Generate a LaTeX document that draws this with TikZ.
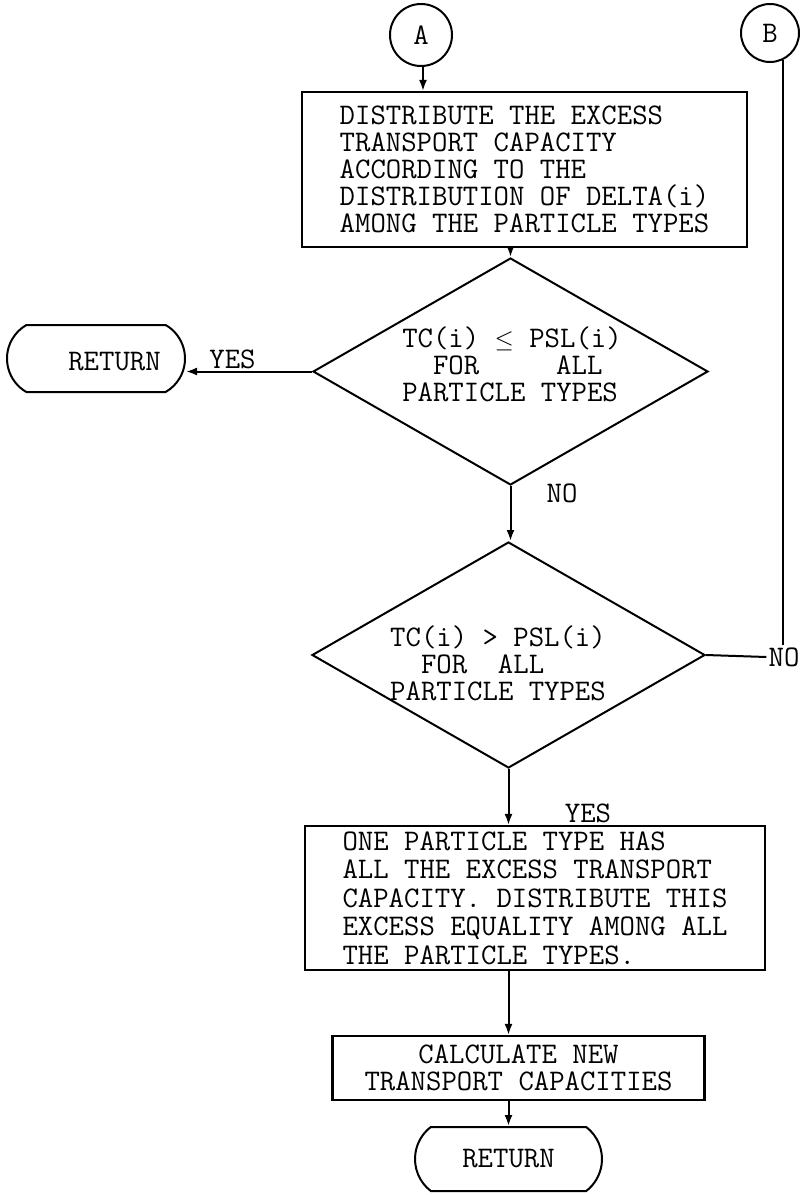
\documentclass[tikz,border=0pt]{standalone}
\usepackage{fontspec}
\usetikzlibrary{shapes.geometric,shapes.misc,arrows.meta}
\newcommand{\mfont}[1]{\ttfamily\fontsize{29.9bp}{#1}\selectfont}
\tikzset{
  txt/.style={font=\mfont{27bp}, inner sep=0pt},
  dtxt/.style={font=\mfont{27bp}, inner sep=0pt, align=left},
  procbox/.style={draw, line width=2.2bp, rectangle, font=\mfont{27bp}},
  decision/.style={draw, line width=2bp, diamond, inner sep=0pt},
  terminal/.style={draw, line width=2bp, rounded rectangle, inner sep=0pt},
  connector/.style={draw, line width=2bp, circle, inner sep=0pt, minimum size=#1, font=\mfont{27bp}},
  arr/.style={line width=2bp, -{Latex[length=11bp,width=8bp]}},
  ln/.style={line width=2bp}
}
\begin{document}
\begin{tikzpicture}[x=1bp,y=-1bp]
\useasboundingbox[fill=white] (0,0) rectangle (803,1195);

% connectors
\node[connector=62bp] (A) at (421,35) {A};
\node[connector=58bp] (B) at (770,33) {B};

% box 1
\node[procbox, align=left, minimum width=445bp, minimum height=155bp] (b1) at (524.5,169.5)
  {DISTRIBUTE THE EXCESS\\TRANSPORT CAPACITY\\ACCORDING TO THE\\DISTRIBUTION OF DELTA(i)\\AMONG THE PARTICLE TYPES};

% decision 1
\node[decision, minimum width=395bp, minimum height=227bp] (d1) at (510.5,371.5) {};
\node[dtxt] (d1t) at (512,364) {TC(i) $\leq$ PSL(i)\\~~FOR~~~~~ALL\\PARTICLE TYPES};

% left return
\node[terminal, rounded rectangle arc length=120, minimum width=178bp, minimum height=67bp] (r1) at (96,358.5) {};
\node[txt] (r1t) at (114.5,362) {RETURN};
\node[txt] (yes1) at (232.5,359) {YES};

% decision 2
\node[decision, minimum width=393bp, minimum height=226bp] (d2) at (508.5,655) {};
\node[dtxt] (d2t) at (498,663) {TC(i) > PSL(i)\\~~FOR~~ALL\\PARTICLE TYPES};
\node[txt] (no1) at (562,493) {NO};
\node[txt, inner sep=2bp] (no2) at (784,657) {NO};
\node[txt] (yes2) at (588,813) {YES};

% box 2
\node[procbox, align=left, minimum width=460bp, minimum height=144bp,
  font=\mfont{28.5bp}] (b2) at (535,898)
  {ONE PARTICLE TYPE HAS\\ALL THE EXCESS TRANSPORT\\CAPACITY. DISTRIBUTE THIS\\EXCESS EQUALITY AMONG ALL\\THE PARTICLE TYPES.};

% box 3
\node[procbox, align=center, minimum width=372bp, minimum height=64bp] (b3) at (518.5,1068)
  {CALCULATE NEW\\TRANSPORT CAPACITIES};

% bottom return
\node[terminal, rounded rectangle arc length=105, minimum width=187bp, minimum height=64bp,
  font=\mfont{27bp}] (r2) at (508.5,1159) {RETURN};

% connections
\draw[arr] ([xshift=2bp]A.south) -- ([xshift=2bp]A.south |- b1.north);
\draw[arr] (d1.north |- b1.south) -- (d1.north);
\draw[arr] (d1.west) -- (d1.west -| r1.east);
\draw[arr] (d1.south) -- (d1.south |- d2.north);
\draw[arr] (d2.south) -- (d2.south |- b2.north);
\draw[arr] (d2.south |- b2.south) -- (d2.south |- b3.north);
\draw[arr] (r2.north |- b3.south) -- (r2.north);
\draw[ln] (d2.east) -- (no2.west);
\draw[ln] (B.-65) -- (B.-65 |- no2.north);
\end{tikzpicture}
\end{document}
